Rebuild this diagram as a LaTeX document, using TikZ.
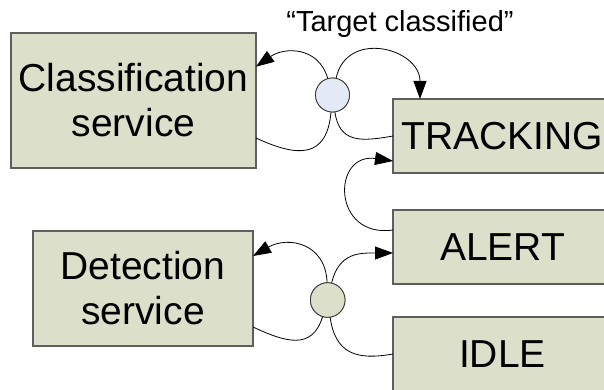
\documentclass[tikz,border=0pt]{standalone}
\usepackage{fontspec}
\setmainfont{Liberation Sans}
\usetikzlibrary{arrows.meta}
\definecolor{boxfill}{HTML}{DCE0CA}
\definecolor{boxline}{HTML}{5E5E5E}
\definecolor{hubblue}{HTML}{E4EAF5}
\tikzset{
  statebox/.style={draw=boxline, line width=1.6pt, fill=boxfill, outer sep=0pt,
    inner sep=0pt, align=center, font=\fontsize{39}{45}\selectfont},
  hub/.style={circle, draw=black!80, line width=0.8pt, minimum size=34pt,
    inner sep=0pt, outer sep=0pt},
  link/.style={line width=0.8pt, black},
  tip/.style={-{Triangle[length=18pt,width=13pt]}}
}
\begin{document}
\begin{tikzpicture}[x=1pt,y=1pt]
  \useasboundingbox (0,0) rectangle (604,-390);

  % services on the left
  \node[statebox, minimum width=245pt, minimum height=135pt] (cls) at (133.5,-100.5)
    {Classification\\service};
  \node[statebox, minimum width=220pt, minimum height=115pt] (det) at (143,-288.5)
    {Detection\\service};

  % states on the right
  \node[statebox, minimum width=219pt, minimum height=74pt] (trk) at (502.5,-136) {TRACKING};
  \node[statebox, minimum width=219pt, minimum height=74pt] (alt) at (502.5,-247) {ALERT};
  \node[statebox, minimum width=219pt, minimum height=74pt] (idl) at (502.5,-354) {IDLE};

  % junction points
  \node[hub, fill=hubblue] (c1) at (332.5,-95) {};
  \node[hub, fill=boxfill, minimum size=34.6pt] (c2) at (327.7,-300) {};

  % event label
  \node[anchor=base, font=\fontsize{29}{34}\selectfont, inner sep=0pt] (lbl) at (400,-32)
    {“Target classified”};

  % classification junction
  \draw[link, tip] (c1.106) to[out=106, in=35, looseness=1.2] ([yshift=33.8pt]cls.east);
  \draw[link] (c1.265) to[out=265, in=-25, looseness=1.5] ([yshift=-37.5pt]cls.east);
  \draw[link, tip] (c1.78) to[out=78, in=90, looseness=1.5] ([xshift=27pt]trk.north west);
  \draw[link] (c1.278) to[out=278, in=190, looseness=1.3] (trk.west);

  % ALERT back to TRACKING
  \draw[link, tip] ([yshift=17pt]alt.west) to[out=188, in=172, looseness=2.3]
    ([yshift=-25pt]trk.west);

  % detection junction
  \draw[link, tip] (c2.92) to[out=92, in=30, looseness=1.3] ([yshift=32.5pt]det.east);
  \draw[link] (c2.253) to[out=253, in=-25, looseness=1.3] ([yshift=-38.5pt]det.east);
  \draw[link, tip] (c2.77) to[out=77, in=180, looseness=1.2] ([yshift=-6pt]alt.west);
  \draw[link] (c2.278) to[out=278, in=190, looseness=1.3] (idl.west);

  % redraw junctions above the arc ends
  \node[hub, fill=hubblue] at (c1) {};
  \node[hub, fill=boxfill, minimum size=34.6pt] at (c2) {};
\end{tikzpicture}
\end{document}
